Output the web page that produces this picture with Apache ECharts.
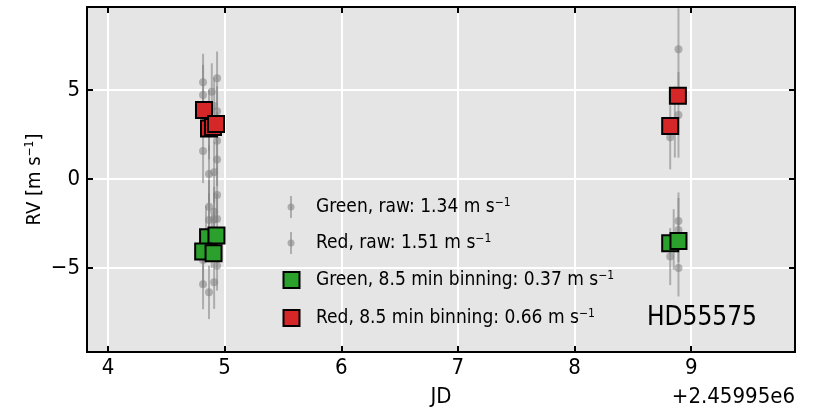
<!DOCTYPE html>
<html>
<head>
<meta charset="utf-8">
<script src="https://cdn.jsdelivr.net/npm/echarts@6/dist/echarts.min.js"></script>
<style>
html,body{margin:0;padding:0;background:#fff;}
#main{width:823px;height:409px;}
</style>
</head>
<body>
<div id="main"></div>
<script>
// JD - 2459950, RV in m/s, error
var greenRaw=[
	[4.815,-4.55,1.5],[4.815,-5.92,1.4],[4.84,-3.0,1.5],
	[4.866,-1.56,1.5],[4.866,-2.3,1.5],[4.866,-6.37,1.5],
	[4.89,-3.5,1.5],[4.91,-1.84,1.4],[4.91,-2.27,1.5],[4.91,-5.8,1.5],
	[4.935,-0.9,1.5],[4.935,-2.25,1.4],[4.935,-4.87,1.4],
	[8.82,-4.36,1.6],[8.85,-3.4,1.7],[8.891,-2.36,1.6],[8.891,-2.87,1.8],[8.891,-5.0,1.6]
];
var redRaw=[
	[4.815,5.43,1.6],[4.815,4.72,1.7],[4.815,1.57,1.8],
	[4.866,3.3,1.7],[4.866,0.28,1.6],[4.866,2.6,1.5],
	[4.89,4.9,1.6],[4.91,0.38,1.7],[4.91,4.1,1.6],
	[4.935,5.66,1.5],[4.935,2.15,1.6],[4.935,1.1,1.5],[4.935,3.8,1.4],
	[8.82,2.34,1.8],[8.86,3.2,2.0],[8.891,7.29,2.3],[8.891,3.6,2.4]
];
var greenBin=[[4.858,-3.28],[4.930,-3.17],[4.816,-4.07],[4.905,-4.17],[8.82,-3.61],[8.891,-3.48]];
var redBin=[[4.823,3.88],[4.866,2.84],[4.90,2.92],[4.926,3.09],[8.82,2.98],[8.886,4.68]];
var xTicks=[4,5,6,7,8,9];
var yTicks=[-5,0,5];
var legendLabels=['Green, raw: 1.34 m s','Red, raw: 1.51 m s','Green, 8.5 min binning: 0.37 m s','Red, 8.5 min binning: 0.66 m s'];

var FONT="'DejaVu Sans Condensed','Liberation Sans Narrow',sans-serif";
var RAWCOL='rgba(128,128,128,0.55)';

function errRender(params,api){
	var x=api.value(0),y=api.value(1),e=api.value(2);
	var p=api.coord([x,y]),t=api.coord([x,y+e]),b=api.coord([x,y-e]);
	return {type:'group',children:[
		{type:'line',shape:{x1:p[0],y1:t[1],x2:p[0],y2:b[1]},style:{stroke:RAWCOL,lineWidth:2}},
		{type:'circle',shape:{cx:p[0],cy:p[1],r:4},style:{fill:RAWCOL}}
	]};
}

function mkRich(size){
	return {t:{fontSize:size,fontFamily:FONT,color:'#000'},
		sup:{fontSize:Math.round(size*0.62),fontFamily:FONT,color:'#000',verticalAlign:'bottom',padding:[0,0,Math.round(size*0.45),0]}};
}
function supText(s){return '{t|'+s+'}{sup|\u22121}';}

var legendItems=[];
var rows=[207,243,280,318];
for(var i=0;i<4;i++){
	if(i<2){
		legendItems.push({type:'line',z:100,shape:{x1:291,y1:rows[i]-11,x2:291,y2:rows[i]+11},style:{stroke:RAWCOL,lineWidth:2}});
		legendItems.push({type:'circle',z:100,shape:{cx:291,cy:rows[i],r:3.5},style:{fill:RAWCOL}});
	}else{
		legendItems.push({type:'rect',z:100,shape:{x:283.5,y:rows[i]-8,width:16,height:16},
			style:{fill:i==2?'#2ca02c':'#d62728',stroke:'#000',lineWidth:2}});
	}
	legendItems.push({type:'text',z:100,x:316,y:rows[i],style:{text:supText(legendLabels[i]),rich:mkRich(19),verticalAlign:'middle',align:'left'}});
}
legendItems.push({type:'text',z:100,x:757,y:318,style:{text:'HD55575',font:'26px '+FONT,fill:'#000',align:'right',verticalAlign:'middle'}});
legendItems.push({type:'text',z:100,x:795,y:397,style:{text:'+2.45995e6',font:'22px '+FONT,fill:'#000',align:'right',verticalAlign:'middle'}});

var tickStyle={show:true,inside:true,length:6,lineStyle:{color:'#000',width:2}};
var chart=echarts.init(document.getElementById('main'));
var option={
	animation:false,
	grid:{left:87,right:28,top:7,bottom:57,outerBoundsMode:'none',containLabel:false,
		show:true,backgroundColor:'#e5e5e5',borderColor:'#000',borderWidth:2},
	xAxis:[{
		type:'value',min:3.82,max:9.89,position:'bottom',
		name:'JD',nameLocation:'middle',nameGap:34,nameMoveOverlap:false,
		nameTextStyle:{fontSize:22,fontFamily:FONT,color:'#000'},
		axisLine:{show:false,onZero:false},
		axisTick:Object.assign({customValues:xTicks},tickStyle),
		axisLabel:{fontSize:22,fontFamily:FONT,color:'#000',margin:5,customValues:xTicks},
		splitLine:{show:true,lineStyle:{color:'#fff',width:2}}
	},{
		type:'value',min:3.82,max:9.89,position:'top',
		axisLine:{show:false,onZero:false},
		axisTick:Object.assign({customValues:xTicks},tickStyle),
		axisLabel:{show:false},splitLine:{show:false}
	}],
	yAxis:[{
		type:'value',min:-9.72,max:9.66,position:'left',
		name:supText('RV [m s')+'{t|]}',nameLocation:'middle',nameGap:42,nameRotate:90,nameMoveOverlap:false,
		nameTextStyle:{rich:mkRich(20)},
		axisLine:{show:false,onZero:false},
		axisTick:Object.assign({customValues:yTicks},tickStyle),
		axisLabel:{fontSize:22,fontFamily:FONT,color:'#000',margin:7,customValues:yTicks,
			formatter:function(v){return v<0?'\u2212'+(-v):''+v;}},
		splitLine:{show:true,lineStyle:{color:'#fff',width:2}}
	},{
		type:'value',min:-9.72,max:9.66,position:'right',
		axisLine:{show:false,onZero:false},
		axisTick:Object.assign({customValues:yTicks},tickStyle),
		axisLabel:{show:false},splitLine:{show:false}
	}],
	series:[
		{name:'Green, raw',type:'custom',renderItem:errRender,data:greenRaw,z:2},
		{name:'Red, raw',type:'custom',renderItem:errRender,data:redRaw,z:2},
		{name:'Green, 8.5 min binning',type:'scatter',symbol:'rect',symbolSize:16,data:greenBin,z:3,
			itemStyle:{color:'#2ca02c',borderColor:'#000',borderWidth:2,opacity:1}},
		{name:'Red, 8.5 min binning',type:'scatter',symbol:'rect',symbolSize:16,data:redBin,z:3,
			itemStyle:{color:'#d62728',borderColor:'#000',borderWidth:2,opacity:1}}
	],
	graphic:legendItems
};
chart.setOption(option);
</script>
</body>
</html>
